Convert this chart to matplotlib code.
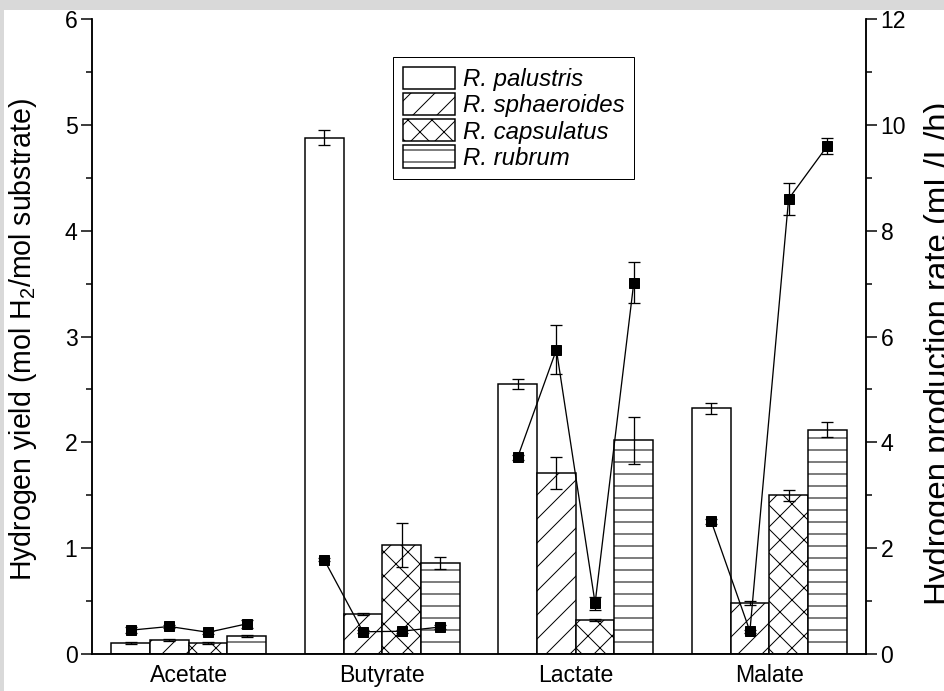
import matplotlib
matplotlib.use("Agg")
import matplotlib.pyplot as plt
import numpy as np
from matplotlib.ticker import MultipleLocator
from matplotlib.patches import Rectangle

# data
substrates = ["Acetate", "Butyrate", "Lactate", "Malate"]
strains = ["R. palustris", "R. sphaeroides", "R. capsulatus", "R. rubrum"]
hatches = ["", "/", "x", "-"]

# hydrogen yield (mol H2/mol substrate); rows = strain, columns = substrate
yield_vals = [
    [0.10, 4.88, 2.55, 2.32],
    [0.13, 0.38, 1.71, 0.48],
    [0.10, 1.03, 0.32, 1.50],
    [0.17, 0.86, 2.02, 2.12],
]
yield_err = [
    [0.01, 0.07, 0.05, 0.05],
    [0.01, 0.01, 0.15, 0.02],
    [0.01, 0.21, 0.01, 0.05],
    [0.01, 0.06, 0.22, 0.07],
]

# hydrogen production rate (mL/L/h); rows = strain, columns = substrate
rate_vals = [
    [0.45, 1.78, 3.72, 2.51],
    [0.52, 0.42, 5.75, 0.43],
    [0.41, 0.43, 0.96, 8.60],
    [0.57, 0.51, 7.02, 9.60],
]
rate_err = [
    [0.06, 0.03, 0.05, 0.05],
    [0.03, 0.03, 0.46, 0.03],
    [0.03, 0.03, 0.12, 0.30],
    [0.07, 0.03, 0.38, 0.15],
]

DPI = 72
plt.rcParams["font.family"] = ["Liberation Sans", "DejaVu Sans"]
plt.rcParams["hatch.linewidth"] = 1.0
plt.rcParams["hatch.color"] = "black"

fig = plt.figure(figsize=(944 / DPI, 691 / DPI), dpi=DPI)
ax = fig.add_axes([92 / 944, 37 / 691, 774 / 944, 635 / 691])
ax2 = ax.twinx()

x = np.arange(len(substrates))
width = 0.2
offsets = (np.arange(len(strains)) - 1.5) * width

for i, name in enumerate(strains):
    ax.bar(x + offsets[i], yield_vals[i], width, yerr=yield_err[i],
           color="white", edgecolor="black", linewidth=1.5, hatch=hatches[i],
           label=name, capsize=6, error_kw=dict(elinewidth=1.3, capthick=1.3, ecolor="black"))

# rate: one polyline per substrate, through the bar centres
rv = np.array(rate_vals)
re = np.array(rate_err)
for j in range(len(substrates)):
    ax2.errorbar(x[j] + offsets, rv[:, j], yerr=re[:, j], color="black",
                 marker="s", markersize=9.5, linewidth=1.3, capsize=6,
                 elinewidth=1.3, capthick=1.3)

ax.set_xlim(-0.5, 3.5)
ax.set_ylim(0, 6)
ax2.set_ylim(0, 12)
ax.set_xticks(x)
ax.set_xticklabels(substrates)
ax.tick_params(axis="x", length=0, labelsize=23, pad=10)

ax.yaxis.set_major_locator(MultipleLocator(1))
ax.yaxis.set_minor_locator(MultipleLocator(0.5))
ax2.yaxis.set_major_locator(MultipleLocator(2))
ax2.yaxis.set_minor_locator(MultipleLocator(1))
for a in (ax, ax2):
    a.tick_params(axis="y", which="major", direction="out", length=11, width=1.5, labelsize=23)
    a.tick_params(axis="y", which="minor", direction="out", length=6, width=1.5)
    for s in a.spines.values():
        s.set_linewidth(1.5)
    a.spines["top"].set_visible(False)

fig.text(23 / 944, 0.508, "Hydrogen yield (mol H$\\mathregular{_2}$/mol substrate)",
         rotation=90, ha="center", va="center", fontsize=28.5)
fig.text(924 / 944, 0.489, "Hydrogen production rate (mL/L/h)",
         rotation=90, ha="left", va="center", fontsize=33)

leg = ax.legend(loc="upper left", bbox_to_anchor=(0.389, 0.94), borderaxespad=0,
                prop={"style": "italic", "size": 24}, handlelength=2.2, handleheight=1.05,
                labelspacing=0.08, handletextpad=0.3, borderpad=0.4, fancybox=False,
                framealpha=1, edgecolor="black")
leg.get_frame().set_linewidth(1.0)

# grey screenshot border
fig.patches.append(Rectangle((0, 1 - 9 / 691), 1, 9 / 691, transform=fig.transFigure,
                             color="#d9d9d9", zorder=-1))
fig.patches.append(Rectangle((0, 0), 3 / 944, 1, transform=fig.transFigure,
                             color="#d9d9d9", zorder=-1))

fig.savefig("out.png", dpi=DPI)
